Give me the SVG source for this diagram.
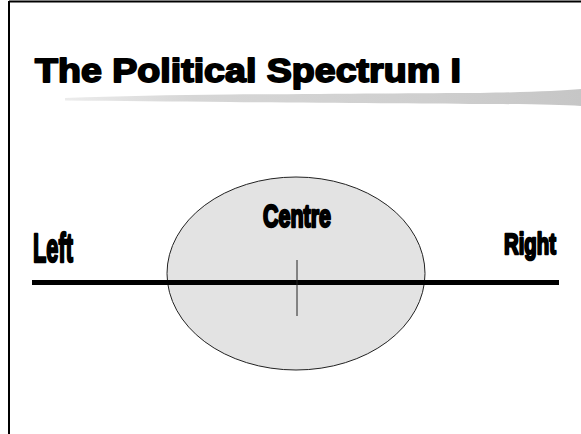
<svg xmlns="http://www.w3.org/2000/svg" width="581" height="434" viewBox="0 0 581 434">
  <style>
    .title { font-family: "Liberation Sans", Arial, sans-serif; font-weight: 900; fill: #000; stroke: #000; stroke-width: 1.8; stroke-linejoin: round; }
    .lbl { font-family: "Liberation Sans Narrow", "Liberation Sans", Arial, sans-serif; font-weight: bold; fill: #000; stroke: #000; stroke-width: 2.4; stroke-linejoin: round; }
    .frame { stroke: #000; stroke-width: 2; fill: none; }
  </style>
  <defs>
    <linearGradient id="brush" x1="0" y1="0" x2="1" y2="0">
      <stop offset="0" stop-color="#ececec"/>
      <stop offset="0.25" stop-color="#d6d6d6"/>
      <stop offset="0.7" stop-color="#cfcfcf"/>
      <stop offset="1" stop-color="#c6c6c6"/>
    </linearGradient>
  </defs>
  <rect x="0" y="0" width="581" height="434" fill="#fff"/>
  <g id="frame">
    <line class="frame" x1="9" y1="1.5" x2="581" y2="1.5"/>
    <line class="frame" x1="9" y1="1" x2="9" y2="434"/>
  </g>
  <g id="title">
    <text class="title" x="35" y="82" font-size="33" textLength="426" lengthAdjust="spacingAndGlyphs">The Political Spectrum I</text>
    <path d="M65 98 C120 96 170 95 230 94.5 C330 94 420 93 480 93 C530 92 560 91 581 89 L581 106 C560 105 530 104 480 104 C420 103.5 330 103 230 102 C170 101.5 120 101 65 100.5 Z" fill="url(#brush)"/>
  </g>
  <g id="centre-node">
    <ellipse cx="296" cy="273.5" rx="129" ry="96.5" fill="#e3e3e3" stroke="#222" stroke-width="1"/>
    <text class="lbl" x="297" y="227" font-size="31" text-anchor="middle" textLength="68" lengthAdjust="spacingAndGlyphs">Centre</text>
  </g>
  <g id="left-node">
    <text class="lbl" x="33" y="262" font-size="41" textLength="40" lengthAdjust="spacingAndGlyphs">Left</text>
  </g>
  <g id="right-node">
    <text class="lbl" x="504" y="254" font-size="30" textLength="52" lengthAdjust="spacingAndGlyphs">Right</text>
  </g>
  <g id="connectors">
    <line x1="32" y1="282.5" x2="559" y2="282.5" stroke="#000" stroke-width="5"/>
    <line x1="297" y1="260" x2="297" y2="316" stroke="#222" stroke-width="1"/>
  </g>
</svg>
